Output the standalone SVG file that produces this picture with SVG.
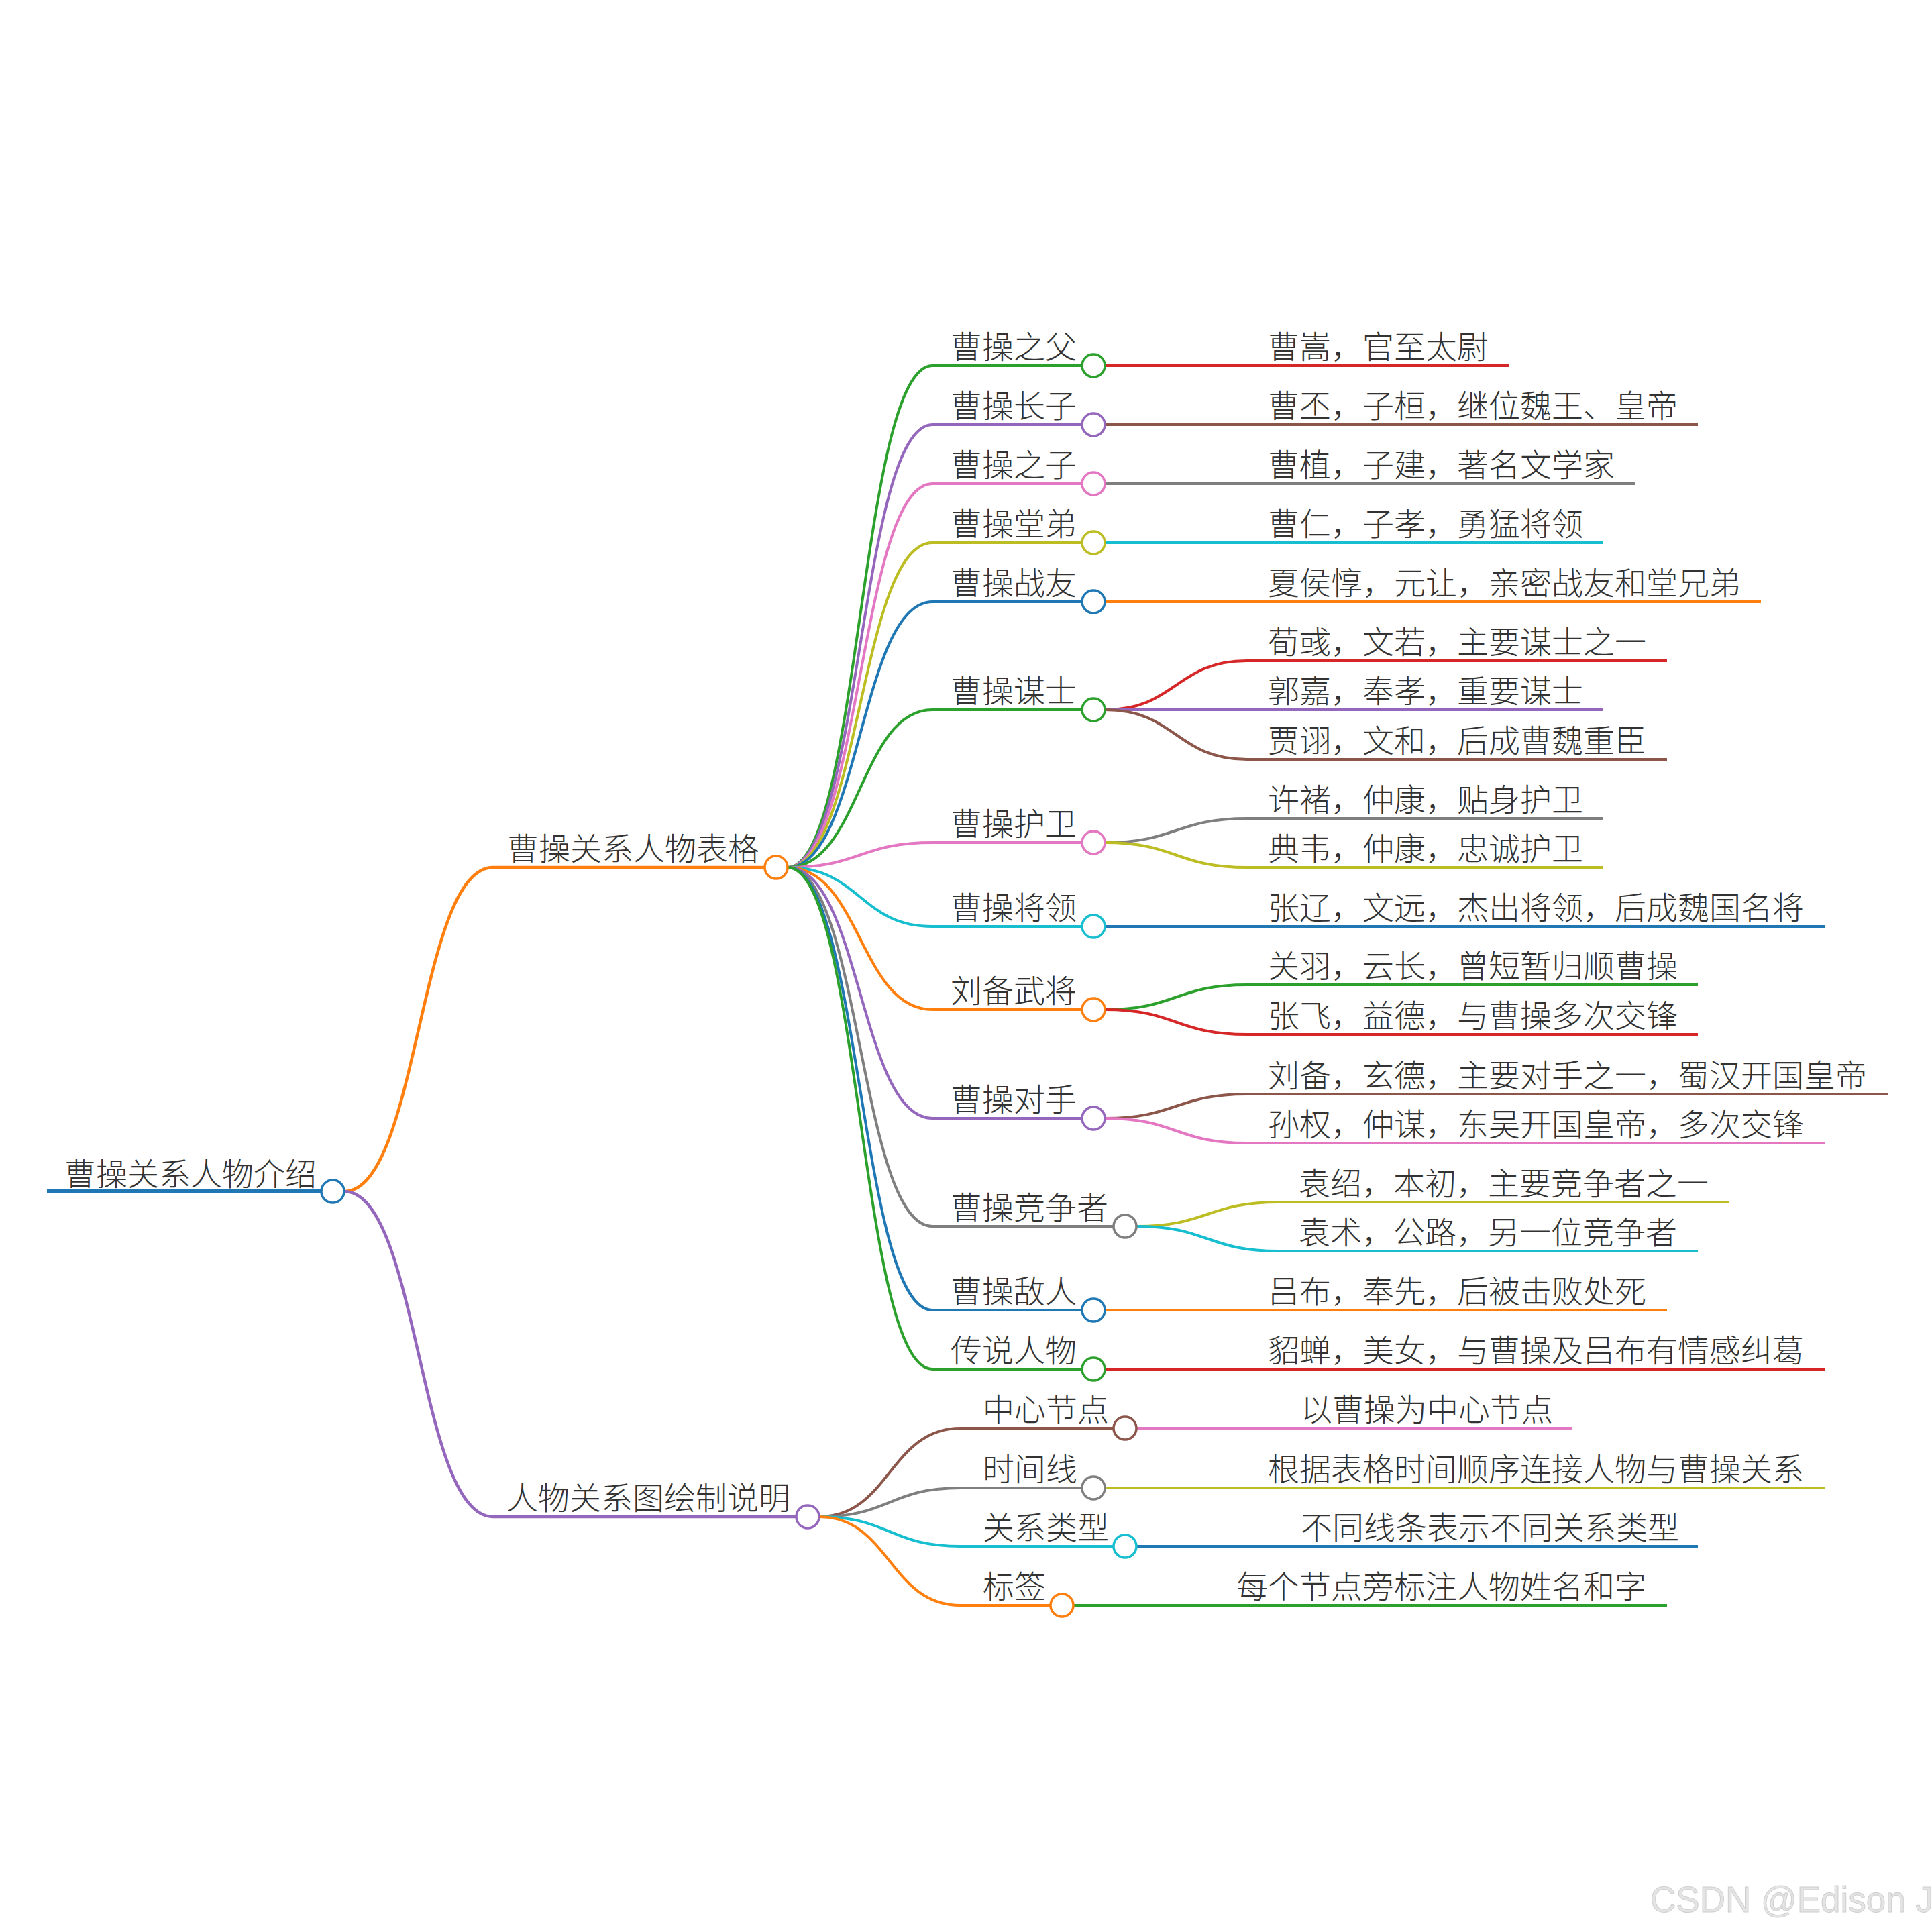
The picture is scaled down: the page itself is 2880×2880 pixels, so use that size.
<svg xmlns="http://www.w3.org/2000/svg" width="2880" height="2880" viewBox="0 0 2880 2880">
<style>
text{font-family:"Noto Sans CJK SC","Noto Sans",sans-serif;font-size:47px;fill:#333;font-weight:300}
.l{fill:none;stroke-width:4;stroke-linecap:butt}
.l1{stroke-width:4.5}
.l0{stroke-width:6}
circle{fill:#fff;stroke-width:3.5}
.blue{stroke:#1f77b4}.orange{stroke:#ff7f0e}.green{stroke:#2ca02c}.red{stroke:#d62728}.purple{stroke:#9467bd}
.brown{stroke:#8c564b}.pink{stroke:#e377c2}.gray{stroke:#7f7f7f}.olive{stroke:#bcbd22}.cyan{stroke:#17becf}
.wm{font-family:"Liberation Sans",Arial,sans-serif;font-size:53px;fill:#e4e4e4;stroke:#cfcfcf;stroke-width:1;font-weight:400}
</style>
<rect width="2880" height="2880" fill="#fff"/>
<g id="connectors">
<path class="l l1 orange" d="M513 1776 C624 1776 624 1293 735 1293"/>
<path class="l l1 purple" d="M513 1776 C624 1776 624 2261 735 2261"/>
<path class="l green" d="M1174 1293 C1282 1293 1282 545 1390 545"/>
<path class="l purple" d="M1174 1293 C1282 1293 1282 633 1390 633"/>
<path class="l pink" d="M1174 1293 C1282 1293 1282 721 1390 721"/>
<path class="l olive" d="M1174 1293 C1282 1293 1282 809 1390 809"/>
<path class="l blue" d="M1174 1293 C1282 1293 1282 897 1390 897"/>
<path class="l green" d="M1174 1293 C1282 1293 1282 1058 1390 1058"/>
<path class="l pink" d="M1174 1293 C1282 1293 1282 1256 1390 1256"/>
<path class="l cyan" d="M1174 1293 C1282 1293 1282 1381 1390 1381"/>
<path class="l orange" d="M1174 1293 C1282 1293 1282 1505 1390 1505"/>
<path class="l purple" d="M1174 1293 C1282 1293 1282 1667 1390 1667"/>
<path class="l gray" d="M1174 1293 C1282 1293 1282 1828 1390 1828"/>
<path class="l blue" d="M1174 1293 C1282 1293 1282 1953 1390 1953"/>
<path class="l green" d="M1174 1293 C1282 1293 1282 2041 1390 2041"/>
<path class="l brown" d="M1221 2261 C1326 2261 1326 2129 1432 2129"/>
<path class="l gray" d="M1221 2261 C1326 2261 1326 2218 1432 2218"/>
<path class="l cyan" d="M1221 2261 C1326 2261 1326 2305 1432 2305"/>
<path class="l orange" d="M1221 2261 C1326 2261 1326 2393 1432 2393"/>
<path class="l red" d="M1647 545 H1859"/>
<path class="l brown" d="M1647 633 H1859"/>
<path class="l gray" d="M1647 721 H1859"/>
<path class="l cyan" d="M1647 809 H1859"/>
<path class="l orange" d="M1647 897 H1859"/>
<path class="l red" d="M1647 1058 C1753 1058 1753 985 1859 985"/>
<path class="l purple" d="M1647 1058 H1859"/>
<path class="l brown" d="M1647 1058 C1753 1058 1753 1132 1859 1132"/>
<path class="l gray" d="M1647 1256 C1753 1256 1753 1220 1859 1220"/>
<path class="l olive" d="M1647 1256 C1753 1256 1753 1293 1859 1293"/>
<path class="l blue" d="M1647 1381 H1859"/>
<path class="l green" d="M1647 1505 C1753 1505 1753 1468 1859 1468"/>
<path class="l red" d="M1647 1505 C1753 1505 1753 1542 1859 1542"/>
<path class="l brown" d="M1647 1667 C1753 1667 1753 1631 1859 1631"/>
<path class="l pink" d="M1647 1667 C1753 1667 1753 1704 1859 1704"/>
<path class="l olive" d="M1694 1828 C1800 1828 1800 1792 1906 1792"/>
<path class="l cyan" d="M1694 1828 C1800 1828 1800 1865 1906 1865"/>
<path class="l orange" d="M1647 1953 H1859"/>
<path class="l red" d="M1647 2041 H1859"/>
<path class="l pink" d="M1694 2129 H1906"/>
<path class="l olive" d="M1647 2218 H1859"/>
<path class="l blue" d="M1694 2305 H1906"/>
<path class="l green" d="M1600 2393 H1812"/>
</g>
<g id="n-root"><path class="l l0 blue" d="M70 1776 H480"/><text x="96" y="1767">曹操关系人物介绍</text><circle class="blue" cx="496" cy="1776" r="17"/></g>
<g id="n-table"><path class="l l1 orange" d="M735 1293 H1141"/><text x="756" y="1282">曹操关系人物表格</text><circle class="orange" cx="1157" cy="1293" r="17"/></g>
<g id="n-guide"><path class="l l1 purple" d="M735 2261 H1188"/><text x="755" y="2250">人物关系图绘制说明</text><circle class="purple" cx="1204" cy="2261" r="17"/></g>
<g id="n-father"><path class="l green" d="M1390 545 H1614"/><text x="1417" y="534">曹操之父</text><circle class="green" cx="1630" cy="545" r="17"/></g>
<g id="n-eldest"><path class="l purple" d="M1390 633 H1614"/><text x="1417" y="622">曹操长子</text><circle class="purple" cx="1630" cy="633" r="17"/></g>
<g id="n-son"><path class="l pink" d="M1390 721 H1614"/><text x="1417" y="710">曹操之子</text><circle class="pink" cx="1630" cy="721" r="17"/></g>
<g id="n-cousin"><path class="l olive" d="M1390 809 H1614"/><text x="1417" y="798">曹操堂弟</text><circle class="olive" cx="1630" cy="809" r="17"/></g>
<g id="n-comrade"><path class="l blue" d="M1390 897 H1614"/><text x="1417" y="886">曹操战友</text><circle class="blue" cx="1630" cy="897" r="17"/></g>
<g id="n-advisor"><path class="l green" d="M1390 1058 H1614"/><text x="1417" y="1047">曹操谋士</text><circle class="green" cx="1630" cy="1058" r="17"/></g>
<g id="n-guard"><path class="l pink" d="M1390 1256 H1614"/><text x="1417" y="1245">曹操护卫</text><circle class="pink" cx="1630" cy="1256" r="17"/></g>
<g id="n-general"><path class="l cyan" d="M1390 1381 H1614"/><text x="1417" y="1370">曹操将领</text><circle class="cyan" cx="1630" cy="1381" r="17"/></g>
<g id="n-liubei-gen"><path class="l orange" d="M1390 1505 H1614"/><text x="1417" y="1494">刘备武将</text><circle class="orange" cx="1630" cy="1505" r="17"/></g>
<g id="n-rival"><path class="l purple" d="M1390 1667 H1614"/><text x="1417" y="1656">曹操对手</text><circle class="purple" cx="1630" cy="1667" r="17"/></g>
<g id="n-competitor"><path class="l gray" d="M1390 1828 H1661"/><text x="1417" y="1817">曹操竞争者</text><circle class="gray" cx="1677" cy="1828" r="17"/></g>
<g id="n-enemy"><path class="l blue" d="M1390 1953 H1614"/><text x="1417" y="1942">曹操敌人</text><circle class="blue" cx="1630" cy="1953" r="17"/></g>
<g id="n-legend"><path class="l green" d="M1390 2041 H1614"/><text x="1417" y="2030">传说人物</text><circle class="green" cx="1630" cy="2041" r="17"/></g>
<g id="n-center"><path class="l brown" d="M1432 2129 H1661"/><text x="1465" y="2118">中心节点</text><circle class="brown" cx="1677" cy="2129" r="17"/></g>
<g id="n-timeline"><path class="l gray" d="M1432 2218 H1614"/><text x="1465" y="2207">时间线</text><circle class="gray" cx="1630" cy="2218" r="17"/></g>
<g id="n-reltype"><path class="l cyan" d="M1432 2305 H1661"/><text x="1465" y="2294">关系类型</text><circle class="cyan" cx="1677" cy="2305" r="17"/></g>
<g id="n-label"><path class="l orange" d="M1432 2393 H1567"/><text x="1465" y="2382">标签</text><circle class="orange" cx="1583" cy="2393" r="17"/></g>
<g id="leaf-caosong"><path class="l red" d="M1859 545 H2250"/><text x="1890" y="534">曹嵩，官至太尉</text></g>
<g id="leaf-caopi"><path class="l brown" d="M1859 633 H2531"/><text x="1890" y="622">曹丕，子桓，继位魏王、皇帝</text></g>
<g id="leaf-caozhi"><path class="l gray" d="M1859 721 H2437"/><text x="1890" y="710">曹植，子建，著名文学家</text></g>
<g id="leaf-caoren"><path class="l cyan" d="M1859 809 H2390"/><text x="1890" y="798">曹仁，子孝，勇猛将领</text></g>
<g id="leaf-xiahoudun"><path class="l orange" d="M1859 897 H2625"/><text x="1890" y="886">夏侯惇，元让，亲密战友和堂兄弟</text></g>
<g id="leaf-xunyu"><path class="l red" d="M1859 985 H2485"/><text x="1890" y="974">荀彧，文若，主要谋士之一</text></g>
<g id="leaf-guojia"><path class="l purple" d="M1859 1058 H2390"/><text x="1890" y="1047">郭嘉，奉孝，重要谋士</text></g>
<g id="leaf-jiaxu"><path class="l brown" d="M1859 1132 H2485"/><text x="1890" y="1121">贾诩，文和，后成曹魏重臣</text></g>
<g id="leaf-xuchu"><path class="l gray" d="M1859 1220 H2390"/><text x="1890" y="1209">许褚，仲康，贴身护卫</text></g>
<g id="leaf-dianwei"><path class="l olive" d="M1859 1293 H2390"/><text x="1890" y="1282">典韦，仲康，忠诚护卫</text></g>
<g id="leaf-zhangliao"><path class="l blue" d="M1859 1381 H2720"/><text x="1890" y="1370">张辽，文远，杰出将领，后成魏国名将</text></g>
<g id="leaf-guanyu"><path class="l green" d="M1859 1468 H2531"/><text x="1890" y="1457">关羽，云长，曾短暂归顺曹操</text></g>
<g id="leaf-zhangfei"><path class="l red" d="M1859 1542 H2531"/><text x="1890" y="1531">张飞，益德，与曹操多次交锋</text></g>
<g id="leaf-liubei"><path class="l brown" d="M1859 1631 H2814"/><text x="1890" y="1620">刘备，玄德，主要对手之一，蜀汉开国皇帝</text></g>
<g id="leaf-sunquan"><path class="l pink" d="M1859 1704 H2720"/><text x="1890" y="1693">孙权，仲谋，东吴开国皇帝，多次交锋</text></g>
<g id="leaf-yuanshao"><path class="l olive" d="M1906 1792 H2578"/><text x="1936" y="1781">袁绍，本初，主要竞争者之一</text></g>
<g id="leaf-yuanshu"><path class="l cyan" d="M1906 1865 H2531"/><text x="1936" y="1854">袁术，公路，另一位竞争者</text></g>
<g id="leaf-lvbu"><path class="l orange" d="M1859 1953 H2485"/><text x="1890" y="1942">吕布，奉先，后被击败处死</text></g>
<g id="leaf-diaochan"><path class="l red" d="M1859 2041 H2720"/><text x="1890" y="2030">貂蝉，美女，与曹操及吕布有情感纠葛</text></g>
<g id="leaf-center"><path class="l pink" d="M1906 2129 H2344"/><text x="1939" y="2118">以曹操为中心节点</text></g>
<g id="leaf-timeline"><path class="l olive" d="M1859 2218 H2720"/><text x="1890" y="2207">根据表格时间顺序连接人物与曹操关系</text></g>
<g id="leaf-reltype"><path class="l blue" d="M1906 2305 H2531"/><text x="1939" y="2294">不同线条表示不同关系类型</text></g>
<g id="leaf-label"><path class="l green" d="M1812 2393 H2485"/><text x="1843" y="2382">每个节点旁标注人物姓名和字</text></g>
<text class="wm" x="2460" y="2850">CSDN @Edison J</text>
</svg>
